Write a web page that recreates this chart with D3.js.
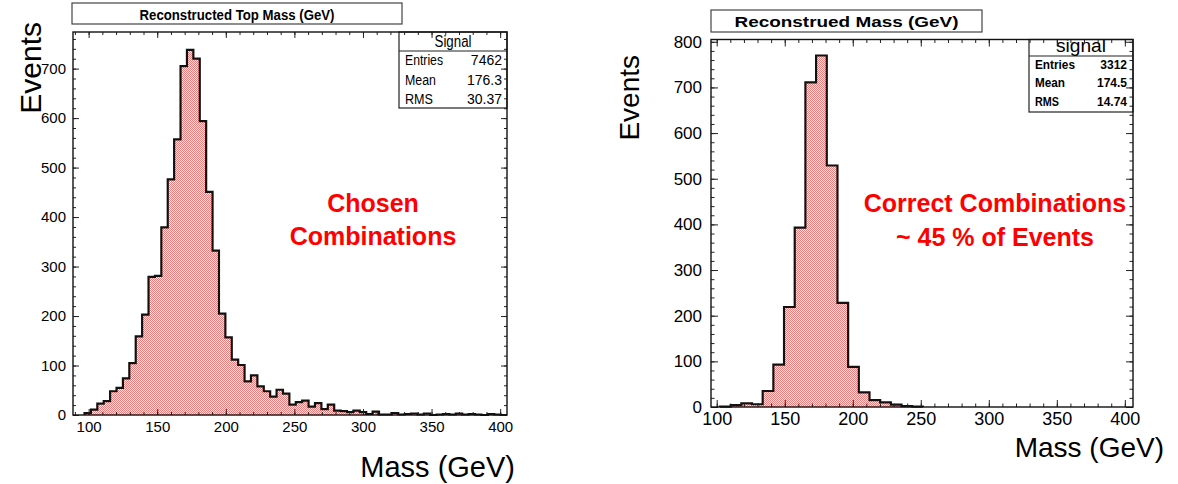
<!DOCTYPE html>
<html>
<head>
<meta charset="utf-8">
<script src="https://cdn.jsdelivr.net/npm/d3@7"></script>
<style>
  html, body { margin: 0; padding: 0; background: #fff; }
  svg { display: block; font-family: "Liberation Sans", Arial, Helvetica, sans-serif; }
</style>
</head>
<body>
<svg id="chart" width="1178" height="484"></svg>
<script>
// ---- Left panel: chosen combinations (bin contents, GeV bins) ----
const leftBinStart = 97;
const leftBinWidth = 4.667;
const leftCounts = [4, 11, 23, 28, 48, 55, 74, 105, 159, 203, 279, 281, 379, 476, 557, 705, 738, 720,
  594, 451, 332, 205, 157, 112, 101, 68, 80, 58, 48, 37, 51, 43, 21, 26, 29, 17, 24, 12, 21, 9, 8,
  6, 9, 6, 2, 7, 1, 1, 4, 1, 2, 3, 1, 3, 0, 1, 2, 1, 3, 1, 2, 1, 0, 2, 1, 0];
const leftStats = [["Entries", "7462"], ["Mean", "176.3"], ["RMS", "30.37"]];

// ---- Right panel: correct combinations ----
const rightBinStart = 102.4;
const rightBinWidth = 7.85;
const rightCounts = [1, 4, 8, 6, 35, 93, 219, 393, 711, 770, 529, 228, 88, 32, 15, 10, 5, 2, 1];
const rightStats = [["Entries", "3312"], ["Mean", "174.5"], ["RMS", "14.74"]];

const xTicks = [100, 150, 200, 250, 300, 350, 400];
const leftYTicks = [0, 100, 200, 300, 400, 500, 600, 700];
const rightYTicks = [0, 100, 200, 300, 400, 500, 600, 700, 800];

const svg = d3.select("#chart");

// checkered red fill used by both histograms
const defs = svg.append("defs");
function checker(id, dark, light) {
  const p = defs.append("pattern").attr("id", id).attr("patternUnits", "userSpaceOnUse")
    .attr("width", 2).attr("height", 2);
  p.append("rect").attr("width", 2).attr("height", 2).attr("fill", light);
  p.append("rect").attr("width", 1).attr("height", 1).attr("fill", dark);
  p.append("rect").attr("x", 1).attr("y", 1).attr("width", 1).attr("height", 1).attr("fill", dark);
}
checker("hatchL", "#f57878", "#fff6f6");
checker("hatchR", "#f57878", "#fff6f6");

function text(g, x, y, str, o) {
  const t = g.append("text").attr("x", x).attr("y", y).text(str)
    .attr("font-size", o.size).attr("fill", o.fill || "#000")
    .attr("font-weight", o.weight || "normal")
    .attr("text-anchor", o.anchor || "start");
  if (o.width) t.attr("textLength", o.width).attr("lengthAdjust", "spacingAndGlyphs");
  return t;
}

function panel(cfg) {
  const g = svg.append("g");
  const x = d3.scaleLinear().domain(cfg.xDomain).range([cfg.left, cfg.right]);
  const y = d3.scaleLinear().domain(cfg.yDomain).range([cfg.bottom, cfg.top]);

  // histogram as a step outline
  const pts = [[cfg.binStart, 0]];
  cfg.counts.forEach((c, i) => {
    const x0 = cfg.binStart + i * cfg.binWidth;
    pts.push([x0, c], [x0 + cfg.binWidth, c]);
  });
  pts.push([cfg.binStart + cfg.counts.length * cfg.binWidth, 0]);

  g.append("path").datum(pts)
    .attr("d", d3.area().x(d => x(d[0])).y0(y(0)).y1(d => y(d[1])))
    .attr("fill", `url(#${cfg.hatch})`);
  g.append("path").datum(pts)
    .attr("d", d3.line().x(d => x(d[0])).y(d => y(d[1])))
    .attr("fill", "none").attr("stroke", "#111").attr("stroke-width", 2.2)
    .attr("stroke-linejoin", "miter");

  // statistics box
  const sb = cfg.stats;
  g.append("rect").attr("x", sb.x0).attr("y", cfg.top).attr("width", cfg.right - sb.x0)
    .attr("height", sb.y1 - cfg.top).attr("fill", "#fff").attr("stroke", "#222").attr("stroke-width", 1.2);
  g.append("line").attr("x1", sb.x0).attr("x2", cfg.right).attr("y1", sb.sep).attr("y2", sb.sep)
    .attr("stroke", "#222").attr("stroke-width", 1.2);
  text(g, (sb.x0 + cfg.right) / 2, sb.headY, sb.head, { size: sb.headSize, anchor: "middle", width: sb.headW });
  sb.rows.forEach((r, i) => {
    text(g, sb.labelX, sb.rowY[i], r[0], { size: sb.rowSize, weight: sb.rowWeight, width: sb.rowLabelW[i] });
    text(g, sb.valueX, sb.rowY[i], r[1], { size: sb.rowSize, weight: sb.rowWeight, anchor: "end" });
  });

  // frame with inward ticks on all four sides
  const minorX = d3.range(Math.ceil(cfg.xDomain[0] / 10) * 10, cfg.xDomain[1], 10);
  const minorY = d3.range(0, cfg.yDomain[1], 20);
  const fmt = d3.format("d");

  const bottom = g.append("g").attr("transform", `translate(0,${cfg.bottom})`)
    .call(d3.axisBottom(x).tickValues(xTicks).tickSizeInner(-cfg.major).tickSizeOuter(0)
      .tickPadding(cfg.xPad).tickFormat(fmt));
  bottom.selectAll("text").attr("font-size", cfg.xFont).attr("font-family", null).attr("fill", "#000");
  g.append("g").attr("transform", `translate(0,${cfg.bottom})`)
    .call(d3.axisBottom(x).tickValues(minorX).tickSizeInner(-cfg.minor).tickSizeOuter(0).tickFormat(""));
  g.append("g").attr("transform", `translate(0,${cfg.top})`)
    .call(d3.axisTop(x).tickValues(xTicks).tickSizeInner(-cfg.major).tickSizeOuter(0).tickFormat(""));
  g.append("g").attr("transform", `translate(0,${cfg.top})`)
    .call(d3.axisTop(x).tickValues(minorX).tickSizeInner(-cfg.minor).tickSizeOuter(0).tickFormat(""));

  const leftAx = g.append("g").attr("transform", `translate(${cfg.left},0)`)
    .call(d3.axisLeft(y).tickValues(cfg.yTicks).tickSizeInner(-cfg.major).tickSizeOuter(0)
      .tickPadding(cfg.yPad).tickFormat(fmt));
  leftAx.selectAll("text").attr("font-size", cfg.yFont).attr("font-family", null).attr("fill", "#000");
  g.append("g").attr("transform", `translate(${cfg.left},0)`)
    .call(d3.axisLeft(y).tickValues(minorY).tickSizeInner(-cfg.minor).tickSizeOuter(0).tickFormat(""));
  g.append("g").attr("transform", `translate(${cfg.right},0)`)
    .call(d3.axisRight(y).tickValues(cfg.yTicks).tickSizeInner(-cfg.major).tickSizeOuter(0).tickFormat(""));
  g.append("g").attr("transform", `translate(${cfg.right},0)`)
    .call(d3.axisRight(y).tickValues(minorY).tickSizeInner(-cfg.minor).tickSizeOuter(0).tickFormat(""));

  g.selectAll(".domain").remove();
  g.selectAll(".tick line").attr("stroke", "#222").attr("stroke-width", 1);

  g.append("rect").attr("x", cfg.left).attr("y", cfg.top)
    .attr("width", cfg.right - cfg.left).attr("height", cfg.bottom - cfg.top)
    .attr("fill", "none").attr("stroke", "#111").attr("stroke-width", 1.4);

  // title box
  const tb = cfg.title;
  g.append("rect").attr("x", tb.x0).attr("y", tb.y0).attr("width", tb.x1 - tb.x0).attr("height", tb.y1 - tb.y0)
    .attr("fill", "#fff").attr("stroke", "#444").attr("stroke-width", 1.2);
  text(g, (tb.x0 + tb.x1) / 2, tb.base, tb.label, { size: tb.size, weight: "bold", anchor: "middle", width: tb.w });

  // axis titles
  g.append("text").attr("transform", `translate(${cfg.yTitle.x},${cfg.yTitle.y}) rotate(-90)`)
    .attr("text-anchor", "end").attr("font-size", cfg.yTitle.size).text("Events");
  text(g, cfg.xTitle.x, cfg.xTitle.y, "Mass (GeV)", { size: cfg.xTitle.size, anchor: "end" });

  // annotation
  cfg.note.lines.forEach((l, i) => {
    text(g, cfg.note.x, cfg.note.y[i], l, { size: cfg.note.size, weight: "bold", anchor: "middle", fill: "#ff0000" });
  });
}

panel({
  left: 73, right: 507, top: 32, bottom: 415,
  xDomain: [88.6, 405], yDomain: [0, 774],
  binStart: leftBinStart, binWidth: leftBinWidth, counts: leftCounts, hatch: "hatchL",
  yTicks: leftYTicks, major: 6, minor: 3,
  xFont: 15, yFont: 15, xPad: 6, yPad: 7,
  stats: { x0: 399, y1: 108, sep: 51, head: "Signal", headY: 47, headSize: 16, headW: 37,
    rows: leftStats, rowY: [65, 85, 104], rowSize: 14, rowWeight: "normal",
    labelX: 405, valueX: 502, rowLabelW: [38, 31, 28] },
  title: { x0: 72, x1: 402, y0: 3, y1: 24, base: 20, label: "Reconstructed Top Mass (GeV)", size: 14, w: 195 },
  yTitle: { x: 41, y: 22, size: 30 },
  xTitle: { x: 515, y: 477, size: 29 },
  note: { x: 373, y: [212, 245], lines: ["Chosen", "Combinations"], size: 25 }
});

panel({
  left: 711, right: 1133, top: 39.5, bottom: 407,
  xDomain: [95.8, 406], yDomain: [0, 805],
  binStart: rightBinStart, binWidth: rightBinWidth, counts: rightCounts, hatch: "hatchR",
  yTicks: rightYTicks, major: 7, minor: 3.5,
  xFont: 18, yFont: 17, xPad: 5, yPad: 9,
  stats: { x0: 1029, y1: 112, sep: 56, head: "signal", headY: 52, headSize: 18, headW: 50,
    rows: rightStats, rowY: [69, 87, 106], rowSize: 12, rowWeight: "bold",
    labelX: 1035, valueX: 1127, rowLabelW: [40, 30, 24] },
  title: { x0: 711, x1: 982, y0: 10, y1: 32, base: 27, label: "Reconstrued Mass (GeV)", size: 15, w: 224 },
  yTitle: { x: 639, y: 55, size: 28 },
  xTitle: { x: 1164, y: 457, size: 28 },
  note: { x: 995, y: [212, 246], lines: ["Correct Combinations", "~ 45 % of Events"], size: 25 }
});
</script>
</body>
</html>
